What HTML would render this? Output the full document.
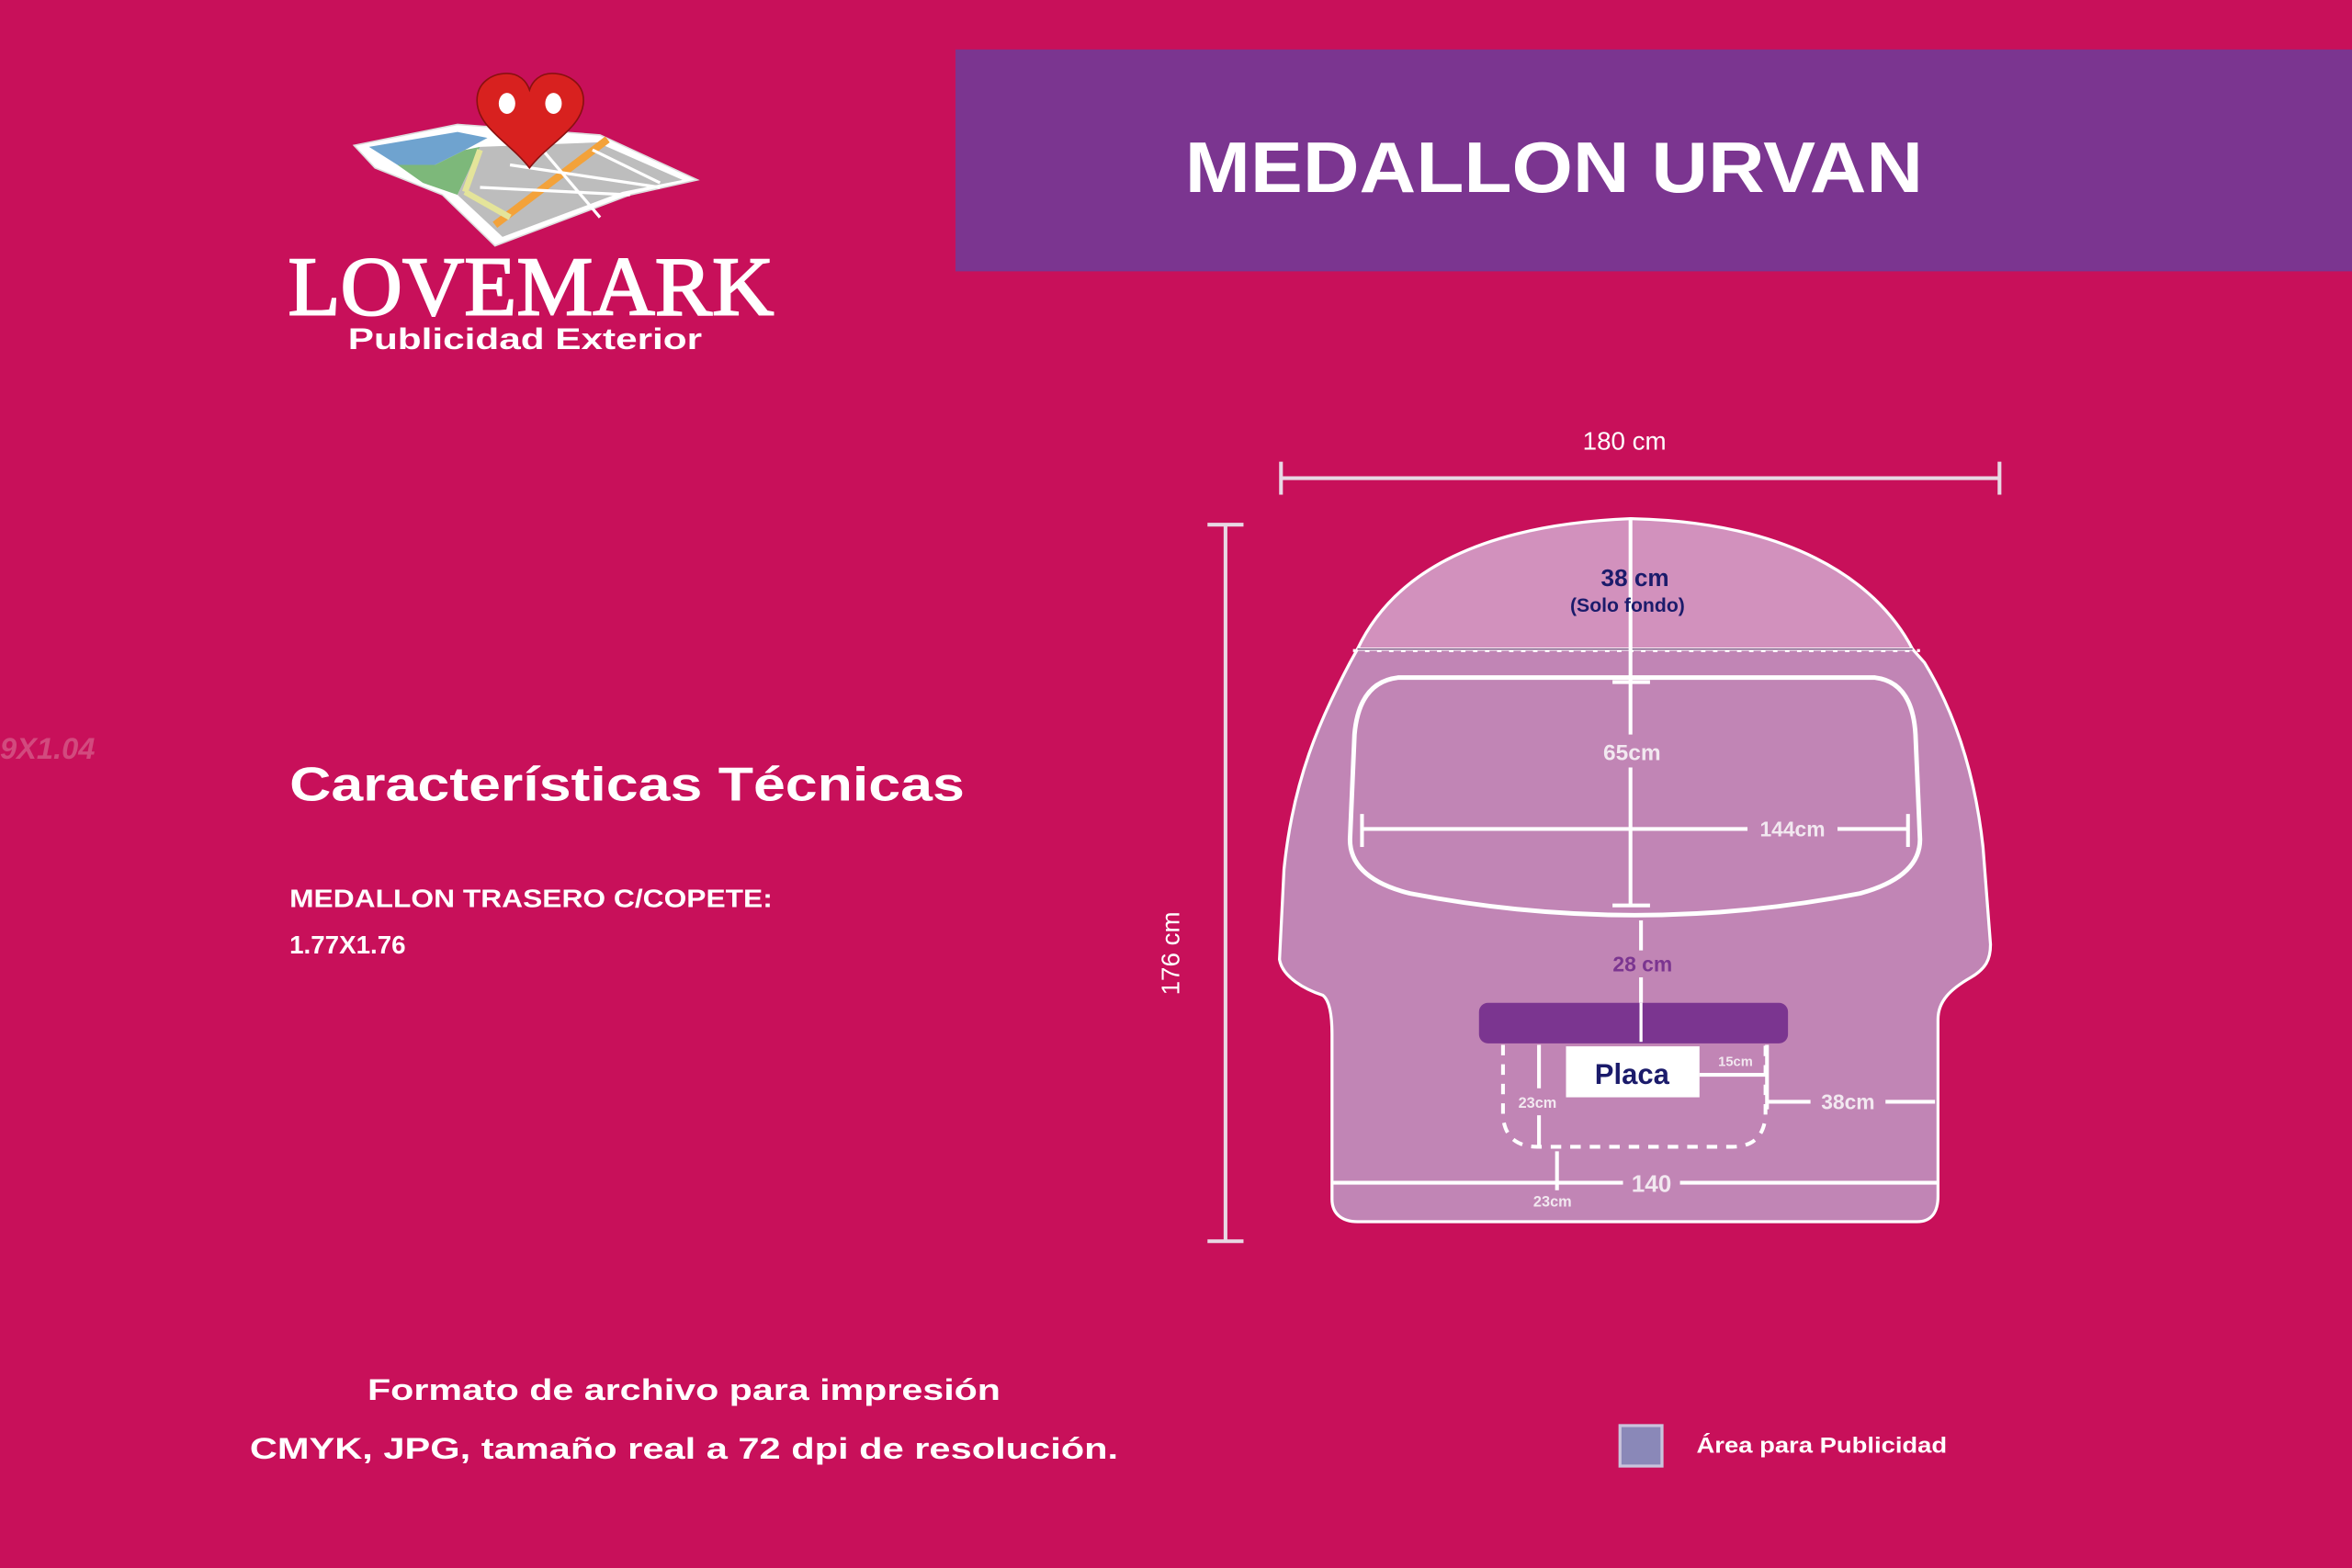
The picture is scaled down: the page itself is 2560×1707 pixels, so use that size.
<!DOCTYPE html>
<html><head><meta charset="utf-8"><style>
html,body{margin:0;padding:0;background:#C8105A;}
svg{display:block}
</style></head><body>
<svg width="2560" height="1707" viewBox="0 0 1568 1046" preserveAspectRatio="none" xmlns="http://www.w3.org/2000/svg" font-family="Liberation Sans, sans-serif">
<rect x="0" y="0" width="1568" height="1046" fill="#C8105A"/>
<!-- banner -->
<rect x="637" y="33" width="931" height="148" fill="#7B3590"/>
<text x="1036" y="128" text-anchor="middle" font-size="48" font-weight="bold" fill="#fff" textLength="492" lengthAdjust="spacingAndGlyphs">MEDALLON URVAN</text>

<!-- logo map -->
<polygon points="236,97 305,83 400,90 465,120 420,130 330,164 295,130 250,112" fill="#fff" stroke="#ddd" stroke-width="1"/>
<polygon points="246,98 305,88 325,92 310,100 290,110 265,110" fill="#6FA3CF"/>
<polygon points="265,110 290,110 310,100 320,98 305,130 282,122" fill="#7DB87A"/>
<polygon points="320,98 398,95 455,120 415,128 335,158 305,130" fill="#BDBDBD"/>
<line x1="330" y1="150" x2="405" y2="93" stroke="#F3A23A" stroke-width="5"/>
<line x1="310" y1="128" x2="340" y2="145" stroke="#E4E49A" stroke-width="4"/>
<line x1="320" y1="100" x2="310" y2="128" stroke="#E4E49A" stroke-width="4"/>
<g stroke="#fff" stroke-width="2"><line x1="340" y1="110" x2="440" y2="125"/><line x1="320" y1="125" x2="420" y2="130"/><line x1="360" y1="98" x2="400" y2="145"/><line x1="395" y1="100" x2="440" y2="122"/></g>
<path d="M353,112 C340,95 318,85 318,67 C318,55 328,49 338,49 C346,49 351,54 353,60 C355,54 360,49 368,49 C378,49 389,55 389,67 C389,85 366,95 353,112 Z" fill="#D8211F" stroke="#8a1010" stroke-width="1"/>
<ellipse cx="338" cy="69" rx="5.5" ry="7" fill="#fff"/>
<ellipse cx="369" cy="69" rx="5.5" ry="7" fill="#fff"/>
<text x="354" y="210" text-anchor="middle" font-family="Liberation Serif, serif" font-size="56" fill="#fff" stroke="#fff" stroke-width="1.2" textLength="324" lengthAdjust="spacingAndGlyphs">LOVEMARK</text>
<text x="350" y="233" text-anchor="middle" font-size="20" font-weight="bold" fill="#fff" textLength="236" lengthAdjust="spacingAndGlyphs">Publicidad Exterior</text>

<text x="0" y="506" font-size="20" font-style="italic" font-weight="bold" fill="#D24A7E">9X1.04</text>

<text x="193" y="534" font-size="32" font-weight="bold" fill="#fff" textLength="450" lengthAdjust="spacingAndGlyphs">Características Técnicas</text>
<text x="193" y="605" font-size="17" font-weight="bold" fill="#fff" textLength="322" lengthAdjust="spacingAndGlyphs">MEDALLON TRASERO C/COPETE:</text>
<text x="193" y="636" font-size="17" font-weight="bold" fill="#fff">1.77X1.76</text>

<text x="456" y="934" text-anchor="middle" font-size="20" font-weight="bold" fill="#fff" textLength="422" lengthAdjust="spacingAndGlyphs">Formato de archivo para impresión</text>
<text x="456" y="973" text-anchor="middle" font-size="20" font-weight="bold" fill="#fff" textLength="579" lengthAdjust="spacingAndGlyphs">CMYK, JPG, tamaño real a 72 dpi de resolución.</text>

<rect x="1080" y="951" width="28" height="27" fill="#8A88B8" stroke="#c9c3dc" stroke-width="2"/>
<text x="1131" y="969" font-size="15" font-weight="bold" fill="#fff" textLength="167" lengthAdjust="spacingAndGlyphs">Área para Publicidad</text>

<!-- dimensions -->
<text x="1083" y="300" text-anchor="middle" font-size="17" fill="#fff">180 cm</text>
<g stroke="#e8d8e4" stroke-width="2.5" fill="none">
<line x1="854" y1="319" x2="1333" y2="319"/><line x1="854" y1="308" x2="854" y2="330"/><line x1="1333" y1="308" x2="1333" y2="330"/>
<line x1="817" y1="350" x2="817" y2="828"/><line x1="805" y1="350" x2="829" y2="350"/><line x1="805" y1="828" x2="829" y2="828"/>
</g>
<text transform="translate(786,636) rotate(-90)" text-anchor="middle" font-size="17" fill="#fff">176 cm</text>

<!-- vehicle shape -->
<path d="M905,433 L900,442 C880,480 862,520 856,580 L853,640 C855,652 870,660 882,664 C887,668 888,680 888,690 L888,800 C888,810 895,815 905,815 L1278,815 C1288,815 1292,808 1292,798 L1292,680 C1292,668 1300,660 1314,652 C1324,646 1327,640 1327,630 L1322,565 C1316,510 1300,470 1283,442 L1275,433 Z" fill="#C185B5" stroke="#fff" stroke-width="2"/>
<path d="M905,433 C930,380 990,350 1087,346 C1190,348 1250,385 1275,433 Z" fill="#D291BD" stroke="#fff" stroke-width="2"/>
<line x1="902" y1="434" x2="1280" y2="434" stroke="#fff" stroke-width="2" stroke-dasharray="3,5"/>
<line x1="905" y1="433" x2="1275" y2="433" stroke="#6a3a70" stroke-width="0.8"/>
<!-- window -->
<path d="M932,452 L1250,452 Q1275,455 1277,490 L1280,560 Q1280,585 1240,596 Q1090,625 940,596 Q900,586 900,560 L903,490 Q906,455 932,452 Z" fill="none" stroke="#fff" stroke-width="3"/>
<g stroke="#fff" stroke-width="2.5" fill="none">
<line x1="1087" y1="346" x2="1087" y2="490"/>
<line x1="1087" y1="512" x2="1087" y2="605"/>
<line x1="1075" y1="455" x2="1100" y2="455"/><line x1="1075" y1="604" x2="1100" y2="604"/>
<line x1="908" y1="553" x2="1165" y2="553"/><line x1="1225" y1="553" x2="1272" y2="553"/>
<line x1="908" y1="543" x2="908" y2="565"/><line x1="1272" y1="543" x2="1272" y2="565"/>
<line x1="1094" y1="614" x2="1094" y2="634"/><line x1="1094" y1="652" x2="1094" y2="695"/>
<path d="M1002,697 L1002,745 Q1004,765 1025,765 L1155,765 Q1175,765 1177,745 L1177,697" stroke-dasharray="7,6"/>
<line x1="1026" y1="697" x2="1026" y2="726"/><line x1="1026" y1="744" x2="1026" y2="765"/>
<line x1="1133" y1="717" x2="1178" y2="717"/><line x1="1178" y1="697" x2="1178" y2="740"/>
<line x1="1178" y1="735" x2="1207" y2="735"/><line x1="1257" y1="735" x2="1290" y2="735"/>
<line x1="888" y1="789" x2="1082" y2="789"/><line x1="1120" y1="789" x2="1292" y2="789"/>
<line x1="1038" y1="768" x2="1038" y2="794"/>
</g>
<rect x="986" y="669" width="206" height="27" rx="6" fill="#7B3590"/>
<line x1="1094" y1="669" x2="1094" y2="695" stroke="#fff" stroke-width="2"/>
<rect x="1044" y="698" width="89" height="34" fill="#fff"/>
<text x="1088" y="723" text-anchor="middle" font-size="19" font-weight="bold" fill="#1B1B6B">Placa</text>
<text x="1090" y="391" text-anchor="middle" font-size="16" font-weight="bold" fill="#1B1B6B">38 cm</text>
<text x="1085" y="408" text-anchor="middle" font-size="13" font-weight="bold" fill="#1B1B6B">(Solo fondo)</text>
<g font-weight="bold" fill="#f2e8f0" text-anchor="middle">
<text x="1088" y="507" font-size="15">65cm</text>
<text x="1195" y="558" font-size="14">144cm</text>
<text x="1095" y="648" font-size="14" fill="#7B3590">28 cm</text>
<text x="1157" y="711" font-size="9">15cm</text>
<text x="1025" y="739" font-size="10">23cm</text>
<text x="1232" y="740" font-size="14">38cm</text>
<text x="1101" y="795" font-size="16">140</text>
<text x="1035" y="805" font-size="10">23cm</text>
</g>
</svg>
</body></html>
